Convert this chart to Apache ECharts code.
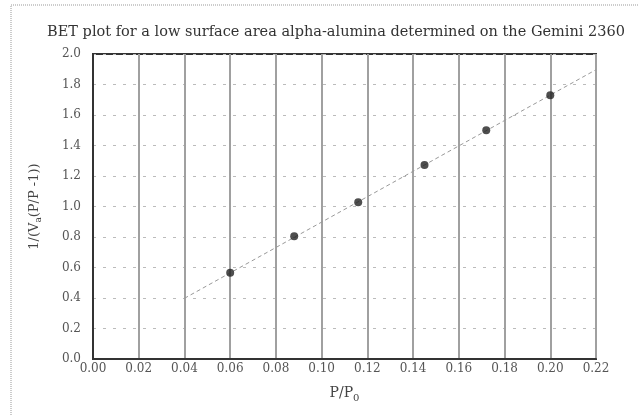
<!DOCTYPE html>
<html><head><meta charset="utf-8">
<script src="https://cdn.jsdelivr.net/npm/echarts@6/dist/echarts.min.js"></script>
<style>html,body{margin:0;padding:0;background:#fff}#c{width:638px;height:416px}</style>
</head><body><div id="c"></div>
<script>
var titleText = 'BET plot for a low surface area alpha-alumina determined on the Gemini 2360';
var pressureRatio = [0.060, 0.088, 0.116, 0.145, 0.172, 0.200];
var betValue = [0.565, 0.805, 1.028, 1.272, 1.500, 1.730];
var fitX = [0.040, 0.220];
var fitY = [0.398, 1.897];
var xTicks = [0, 0.22, 0.02];
var yTicks = [0, 2.0, 0.2];

var chart = echarts.init(document.getElementById('c'), null, {renderer: 'canvas'});
var serif = 'DejaVu Serif';
chart.setOption({
  animation: false,
  backgroundColor: '#fff',
  title: {
    text: titleText, left: 331, top: 20, textAlign: 'center',
    textStyle: {fontFamily: serif, fontSize: 14.5, fontWeight: 'normal', color: '#333'}
  },
  graphic: [{
    type: 'rect', shape: {x: 11, y: 5, width: 700, height: 500},
    style: {fill: 'none', stroke: '#999', lineWidth: 1, lineDash: [1, 1]}, silent: true
  }],
  grid: {left: 93, top: 54, right: 42, bottom: 57, show: true, borderColor: '#333', borderWidth: 2},
  xAxis: {
    type: 'value', min: xTicks[0], max: xTicks[1], interval: xTicks[2],
    name: '{a|P/P}{b|0}', nameLocation: 'middle', nameGap: 24,
    nameTextStyle: {rich: {
      a: {fontFamily: serif, fontSize: 14, color: '#444'},
      b: {fontFamily: serif, fontSize: 10, color: '#444', padding: [10, 0, 0, 0]}
    }},
    axisLine: {show: true, lineStyle: {color: '#333', width: 2}},
    axisTick: {show: false},
    axisLabel: {fontFamily: serif, fontSize: 12, color: '#555', margin: 4,
      formatter: function (v) { return v.toFixed(2); }},
    splitLine: {show: true, lineStyle: {color: '#a0a0a0', width: 2}}
  },
  yAxis: {
    type: 'value', min: yTicks[0], max: yTicks[1], interval: yTicks[2],
    name: '1/(V{s|a}(P/P -1))', nameLocation: 'middle', nameGap: 50,
    nameTextStyle: {fontFamily: serif, fontSize: 13, color: '#444',
      rich: {s: {fontFamily: serif, fontSize: 9, color: '#444', padding: [8, 0, 0, 0]}}},
    axisLine: {show: true, lineStyle: {color: '#333', width: 2}},
    axisTick: {show: false},
    axisLabel: {fontFamily: serif, fontSize: 12, color: '#555', margin: 12,
      formatter: function (v) { return v.toFixed(1); }},
    splitLine: {show: true, lineStyle: {color: '#bbb', width: 1, type: [3, 7]}}
  },
  series: [{
    type: 'line', data: fitX.map(function (x, i) { return [x, fitY[i]]; }),
    symbol: 'none', lineStyle: {color: '#999', width: 1, type: [4, 3]}, z: 2
  }, {
    type: 'scatter', data: pressureRatio.map(function (x, i) { return [x, betValue[i]]; }),
    symbol: 'circle', symbolSize: 8, itemStyle: {color: '#222'}, z: 3
  }]
});
</script></body></html>
